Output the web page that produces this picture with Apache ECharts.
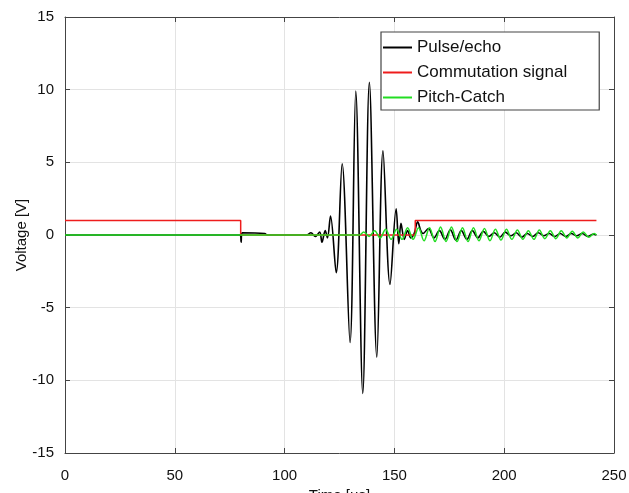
<!DOCTYPE html>
<html>
<head>
<meta charset="utf-8">
<script src="https://cdn.jsdelivr.net/npm/echarts@6/dist/echarts.min.js"></script>
<style>
  html, body { margin: 0; padding: 0; background: #fff; }
  #chart { width: 629px; height: 493px; }
</style>
</head>
<body>
<div id="chart"></div>
<script>
// series data: [time in us, voltage in V]
const pulseEcho = [
  [0, 0], [79.8, 0], [80.2, -0.5], [80.6, 0.15], [91, 0.1], [92, 0], [110, 0],
  [112, 0.15], [114, -0.1], [116, 0.2], [117, -0.5], [118.5, 0.3], [119.5, -0.2],
  [120.9, 1.3], [123.5, -2.6], [126.2, 4.9], [129.8, -7.4], [132.4, 9.9],
  [135.6, -10.9], [138.6, 10.5], [142, -8.4], [144.8, 5.8], [148, -3.4],
  [150.8, 1.8], [152, -0.6], [153, 0.8], [154.5, -0.3], [156, 0.3], [157.5, -0.2],
  [159, 0.1], [160.6, 0.9], [162, 0.3], [163, 0.1], [165.5, 0.45], [168, -0.2],
  [170.5, 0.3], [173, -0.3], [175.5, 0.35], [178, -0.35], [180.5, 0.3],
  [183, -0.3], [185.5, 0.3], [188, -0.2], [190.5, 0.25], [193, -0.1],
  [195.5, 0.15], [198, -0.15], [200.5, 0.2], [203, -0.05], [205.5, 0.15],
  [208, -0.15], [210.5, 0.1], [213, -0.1], [215.5, 0.15], [218, -0.05],
  [220.5, 0.1], [223, -0.1], [225.5, 0.1], [228, -0.1], [230.5, 0.1],
  [233, -0.05], [235.5, 0.1], [238, -0.1], [240.5, 0.05], [242, 0]
]
const commutation = [
  [0, 1], [80, 1], [80, 0], [159.5, 0], [159.5, 1], [242, 1]
]
const pitchCatch = [
  [0, 0], [134, 0], [136, 0.2], [138.5, -0.1], [141, 0.3], [143.5, -0.2],
  [146, 0.4], [148.5, -0.3], [151, 0.4], [153.5, -0.3], [156, 0.5], [158.5, -0.3],
  [161, 0.5], [163.5, -0.4], [166, 0.5], [168.5, -0.45], [171, 0.55],
  [173.5, -0.45], [176, 0.55], [178.5, -0.45], [181, 0.5], [183.5, -0.45],
  [186, 0.5], [188.5, -0.4], [191, 0.45], [193.5, -0.4], [196, 0.4],
  [198.5, -0.35], [201, 0.4], [203.5, -0.3], [206, 0.35], [208.5, -0.3],
  [211, 0.3], [213.5, -0.3], [216, 0.35], [218.5, -0.25], [221, 0.3],
  [223.5, -0.25], [226, 0.3], [228.5, -0.2], [231, 0.25], [233.5, -0.2],
  [236, 0.2], [238.5, -0.15], [241, 0.1], [242, 0]
]

const seriesNames = ['Pulse/echo', 'Commutation signal', 'Pitch-Catch']
const seriesColors = ['#000000', '#ee1c1c', '#22dd22']

const font = 'Liberation Sans, Arial, sans-serif'
const axisColor = '#444'
const gridColor = '#e3e3e3'

const chart = echarts.init(document.getElementById('chart'))

const option = {
  animation: false,
  grid: { left: 65, right: 15, top: 17, bottom: 40, outerBoundsMode: 'none', containLabel: false },
  legend: {
    orient: 'vertical',
    left: 381,
    top: 32,
    padding: [7, 32, 4, 2],
    itemGap: 8,
    itemWidth: 29,
    itemHeight: 2,
    icon: 'rect',
    backgroundColor: '#fff',
    borderColor: '#444',
    borderWidth: 1.2,
    borderRadius: 0,
    data: seriesNames,
    textStyle: { fontFamily: font, fontSize: 17, color: '#111' }
  },
  xAxis: [
    {
      type: 'value', min: 0, max: 250, interval: 50,
      name: 'Time [\u00b5s]', nameLocation: 'middle', nameGap: 35, nameMoveOverlap: false,
      nameTextStyle: { fontFamily: font, fontSize: 15, color: '#111' },
      axisLine: { show: true, onZero: false, lineStyle: { color: axisColor } },
      axisTick: { inside: true, length: 5, lineStyle: { color: axisColor } },
      axisLabel: { fontFamily: font, fontSize: 15, color: '#111', margin: 15 },
      splitLine: { show: true, lineStyle: { color: gridColor } }
    },
    {
      type: 'value', min: 0, max: 250, interval: 50, position: 'top',
      axisLine: { show: true, onZero: false, lineStyle: { color: axisColor } },
      axisTick: { inside: true, length: 5, lineStyle: { color: axisColor } },
      axisLabel: { show: false },
      splitLine: { show: false }
    }
  ],
  yAxis: [
    {
      type: 'value', min: -15, max: 15, interval: 5,
      name: 'Voltage [V]', nameLocation: 'middle', nameGap: 36, nameMoveOverlap: false,
      nameTextStyle: { fontFamily: font, fontSize: 15, color: '#111' },
      axisLine: { show: true, onZero: false, lineStyle: { color: axisColor } },
      axisTick: { show: true, inside: true, length: 5, lineStyle: { color: axisColor } },
      axisLabel: { fontFamily: font, fontSize: 15, color: '#111', margin: 11 },
      splitLine: { show: true, lineStyle: { color: gridColor } }
    },
    {
      type: 'value', min: -15, max: 15, interval: 5, position: 'right',
      axisLine: { show: true, onZero: false, lineStyle: { color: axisColor } },
      axisTick: { show: true, inside: true, length: 5, lineStyle: { color: axisColor } },
      axisLabel: { show: false },
      splitLine: { show: false }
    }
  ],
  series: [
    { name: seriesNames[0], type: 'line', data: pulseEcho, showSymbol: false, smooth: 0.35,
      lineStyle: { color: seriesColors[0], width: 1.6 }, itemStyle: { color: seriesColors[0] } },
    { name: seriesNames[1], type: 'line', data: commutation, showSymbol: false,
      lineStyle: { color: seriesColors[1], width: 1.5 }, itemStyle: { color: seriesColors[1] } },
    { name: seriesNames[2], type: 'line', data: pitchCatch, showSymbol: false, smooth: 0.35,
      lineStyle: { color: seriesColors[2], width: 1.5 }, itemStyle: { color: seriesColors[2] } }
  ]
}

chart.setOption(option)
</script>
</body>
</html>
